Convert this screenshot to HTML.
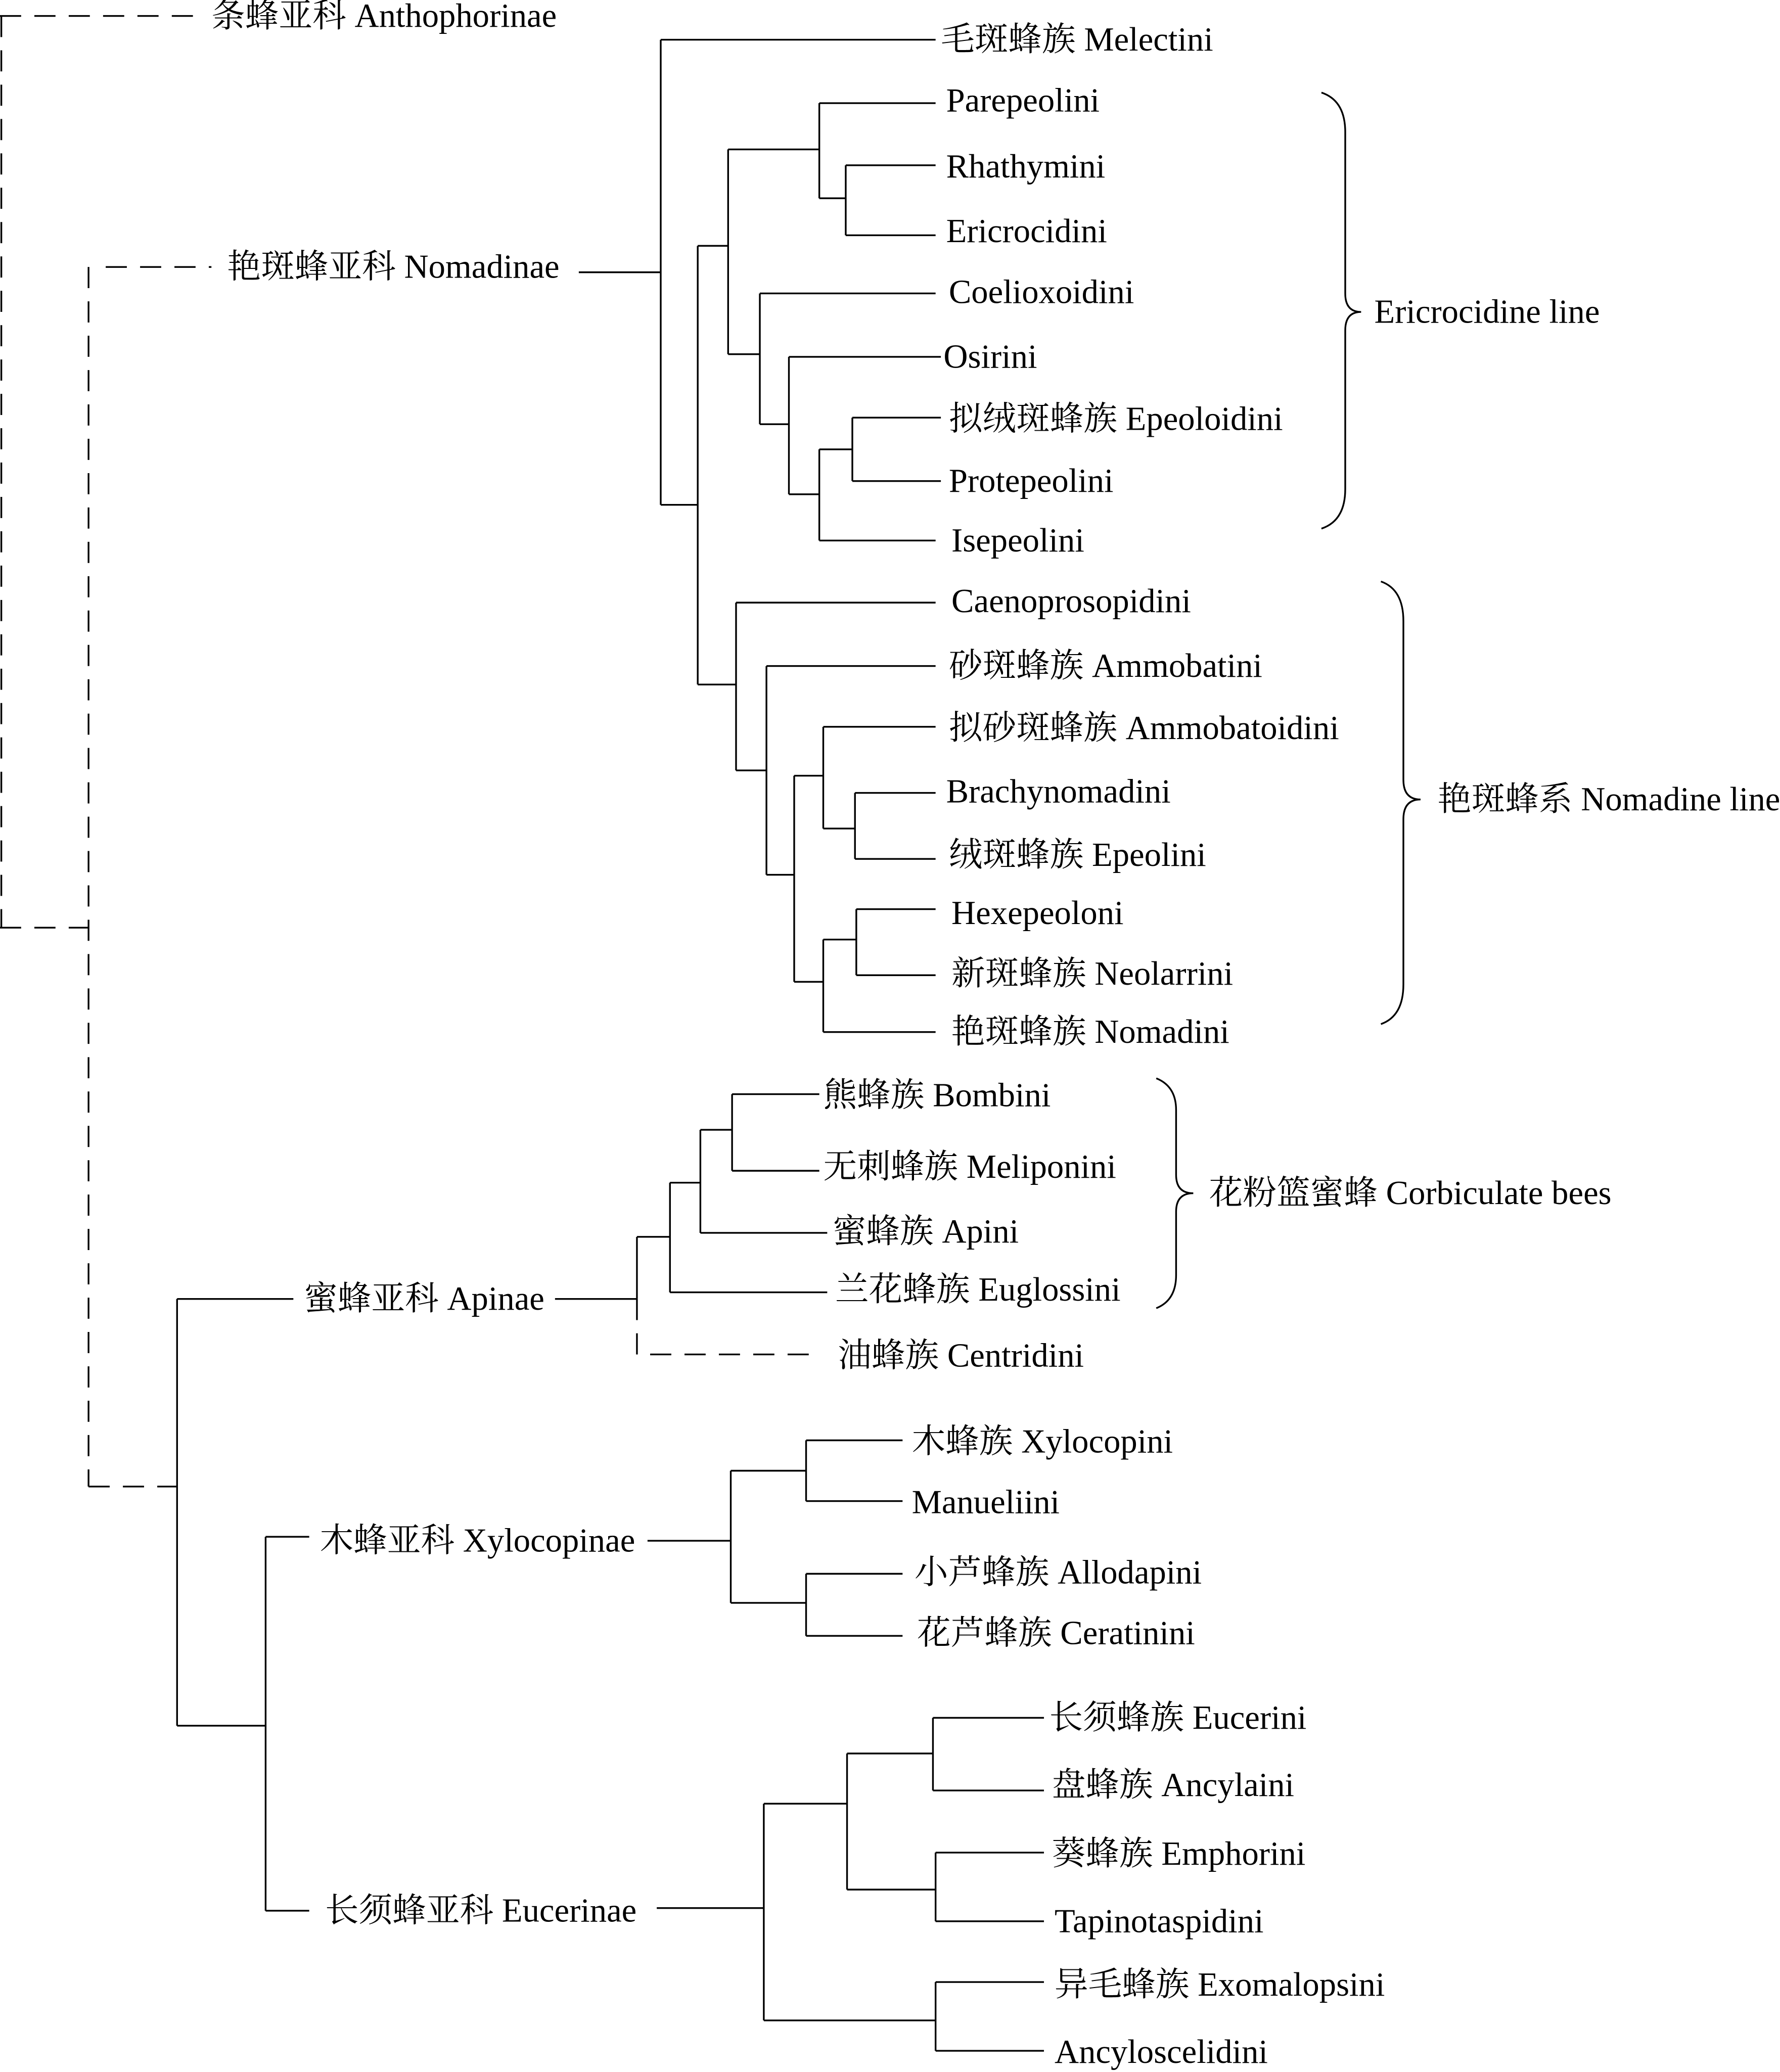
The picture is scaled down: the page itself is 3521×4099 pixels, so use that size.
<!DOCTYPE html>
<html><head><meta charset="utf-8"><style>
html,body{margin:0;padding:0;background:#fff;}
svg{display:block;}
text{font-family:"Liberation Serif","Noto Serif CJK SC","Noto Sans CJK SC",serif;font-size:25.5px;fill:#000;dominant-baseline:central;}
</style></head><body>
<svg width="3521" height="4099" viewBox="0 0 1347 1568" xmlns="http://www.w3.org/2000/svg">
<g fill="none" stroke="#000" stroke-width="1.3">
<g stroke-dasharray="16,10">
<path d="M0,12H150 M1,12V702 M0,702H67"/>
<path d="M67,202V1125 M80,202H160 M67,1125H134"/>
<path d="M482,983V1025H622"/>
</g>
<path d="M438,206H500 M500,30V382 M500,30H708 M500,382H528 M528,186V518"/>
<path d="M528,186H551 M551,113V268 M551,113H620 M620,78V150 M620,78H708 M620,150H640 M640,125V178 M640,125H708 M640,178H708"/>
<path d="M551,268H575 M575,222V321 M575,222H708 M575,321H597 M597,270V374 M597,270H712 M597,374H620 M620,340V409 M620,340H645 M645,316V364 M645,316H712 M645,364H712 M620,409H708"/>
<path d="M528,518H557 M557,456V583 M557,456H708 M557,583H580 M580,504V662 M580,504H708 M580,662H601 M601,587V743 M601,587H623 M623,550V627 M623,550H708 M623,627H647 M647,600V650 M647,600H708 M647,650H708 M601,743H623 M623,711V781 M623,711H648 M648,688V738 M648,688H708 M648,738H708 M623,781H708"/>
<path d="M420,983H482 M482,936V983 M482,936H507 M507,895V978 M507,895H530 M530,855V933 M530,855H554 M554,828V886 M554,828H620 M554,886H620 M530,933H626 M507,978H626"/>
<path d="M134,983V1306 M134,983H222 M134,1306H201 M201,1163V1446 M201,1163H234 M201,1446H234"/>
<path d="M490,1166H553 M553,1113V1213 M553,1113H610 M610,1090V1136 M610,1090H683 M610,1136H683 M553,1213H610 M610,1191V1238 M610,1191H683 M610,1238H683"/>
<path d="M497,1444H578 M578,1365V1529 M578,1365H641 M641,1327V1430 M641,1327H706 M706,1300V1355 M706,1300H790 M706,1355H790 M641,1430H708 M708,1402V1454 M708,1402H790 M708,1454H790 M578,1529H708 M708,1500V1552 M708,1500H790 M708,1552H790"/>
<path d="M1000,70Q1018,76 1018,100V222Q1018,236 1030,236Q1018,236 1018,250V370Q1018,394 1000,400"/>
<path d="M1045,440Q1062,446 1062,470V590Q1062,605 1075,605Q1062,605 1062,620V745Q1062,769 1045,775"/>
<path d="M875,816Q890,822 890,840V889Q890,903 903,903Q890,903 890,917V965Q890,984 875,990"/>
</g>
<text x="160" y="12">条蜂亚科 Anthophorinae</text>
<text x="172" y="202">艳斑蜂亚科 Nomadinae</text>
<text x="712" y="30">毛斑蜂族 Melectini</text>
<text x="716" y="76">Parepeolini</text>
<text x="716" y="126">Rhathymini</text>
<text x="716" y="175">Ericrocidini</text>
<text x="718" y="221">Coelioxoidini</text>
<text x="714" y="270">Osirini</text>
<text x="718" y="317">拟绒斑蜂族 Epeoloidini</text>
<text x="718" y="364">Protepeolini</text>
<text x="720" y="409">Isepeolini</text>
<text x="720" y="455">Caenoprosopidini</text>
<text x="718" y="504">砂斑蜂族 Ammobatini</text>
<text x="718" y="551">拟砂斑蜂族 Ammobatoidini</text>
<text x="716" y="599">Brachynomadini</text>
<text x="718" y="647">绒斑蜂族 Epeolini</text>
<text x="720" y="691">Hexepeoloni</text>
<text x="720" y="737">新斑蜂族 Neolarrini</text>
<text x="720" y="781">艳斑蜂族 Nomadini</text>
<text x="1040" y="236">Ericrocidine line</text>
<text x="1088" y="605">艳斑蜂系 Nomadine line</text>
<text x="623" y="829">熊蜂族 Bombini</text>
<text x="623" y="883">无刺蜂族 Meliponini</text>
<text x="630" y="932">蜜蜂族 Apini</text>
<text x="632" y="976">兰花蜂族 Euglossini</text>
<text x="634" y="1026">油蜂族 Centridini</text>
<text x="915" y="903">花粉篮蜜蜂 Corbiculate bees</text>
<text x="230" y="983">蜜蜂亚科 Apinae</text>
<text x="242" y="1166">木蜂亚科 Xylocopinae</text>
<text x="690" y="1091">木蜂族 Xylocopini</text>
<text x="690" y="1137">Manueliini</text>
<text x="692" y="1190">小芦蜂族 Allodapini</text>
<text x="694" y="1236">花芦蜂族 Ceratinini</text>
<text x="246" y="1446">长须蜂亚科 Eucerinae</text>
<text x="794" y="1300">长须蜂族 Eucerini</text>
<text x="796" y="1351">盘蜂族 Ancylaini</text>
<text x="796" y="1403">葵蜂族 Emphorini</text>
<text x="798" y="1454">Tapinotaspidini</text>
<text x="798" y="1502">异毛蜂族 Exomalopsini</text>
<text x="798" y="1553">Ancyloscelidini</text>
</svg>
</body></html>
